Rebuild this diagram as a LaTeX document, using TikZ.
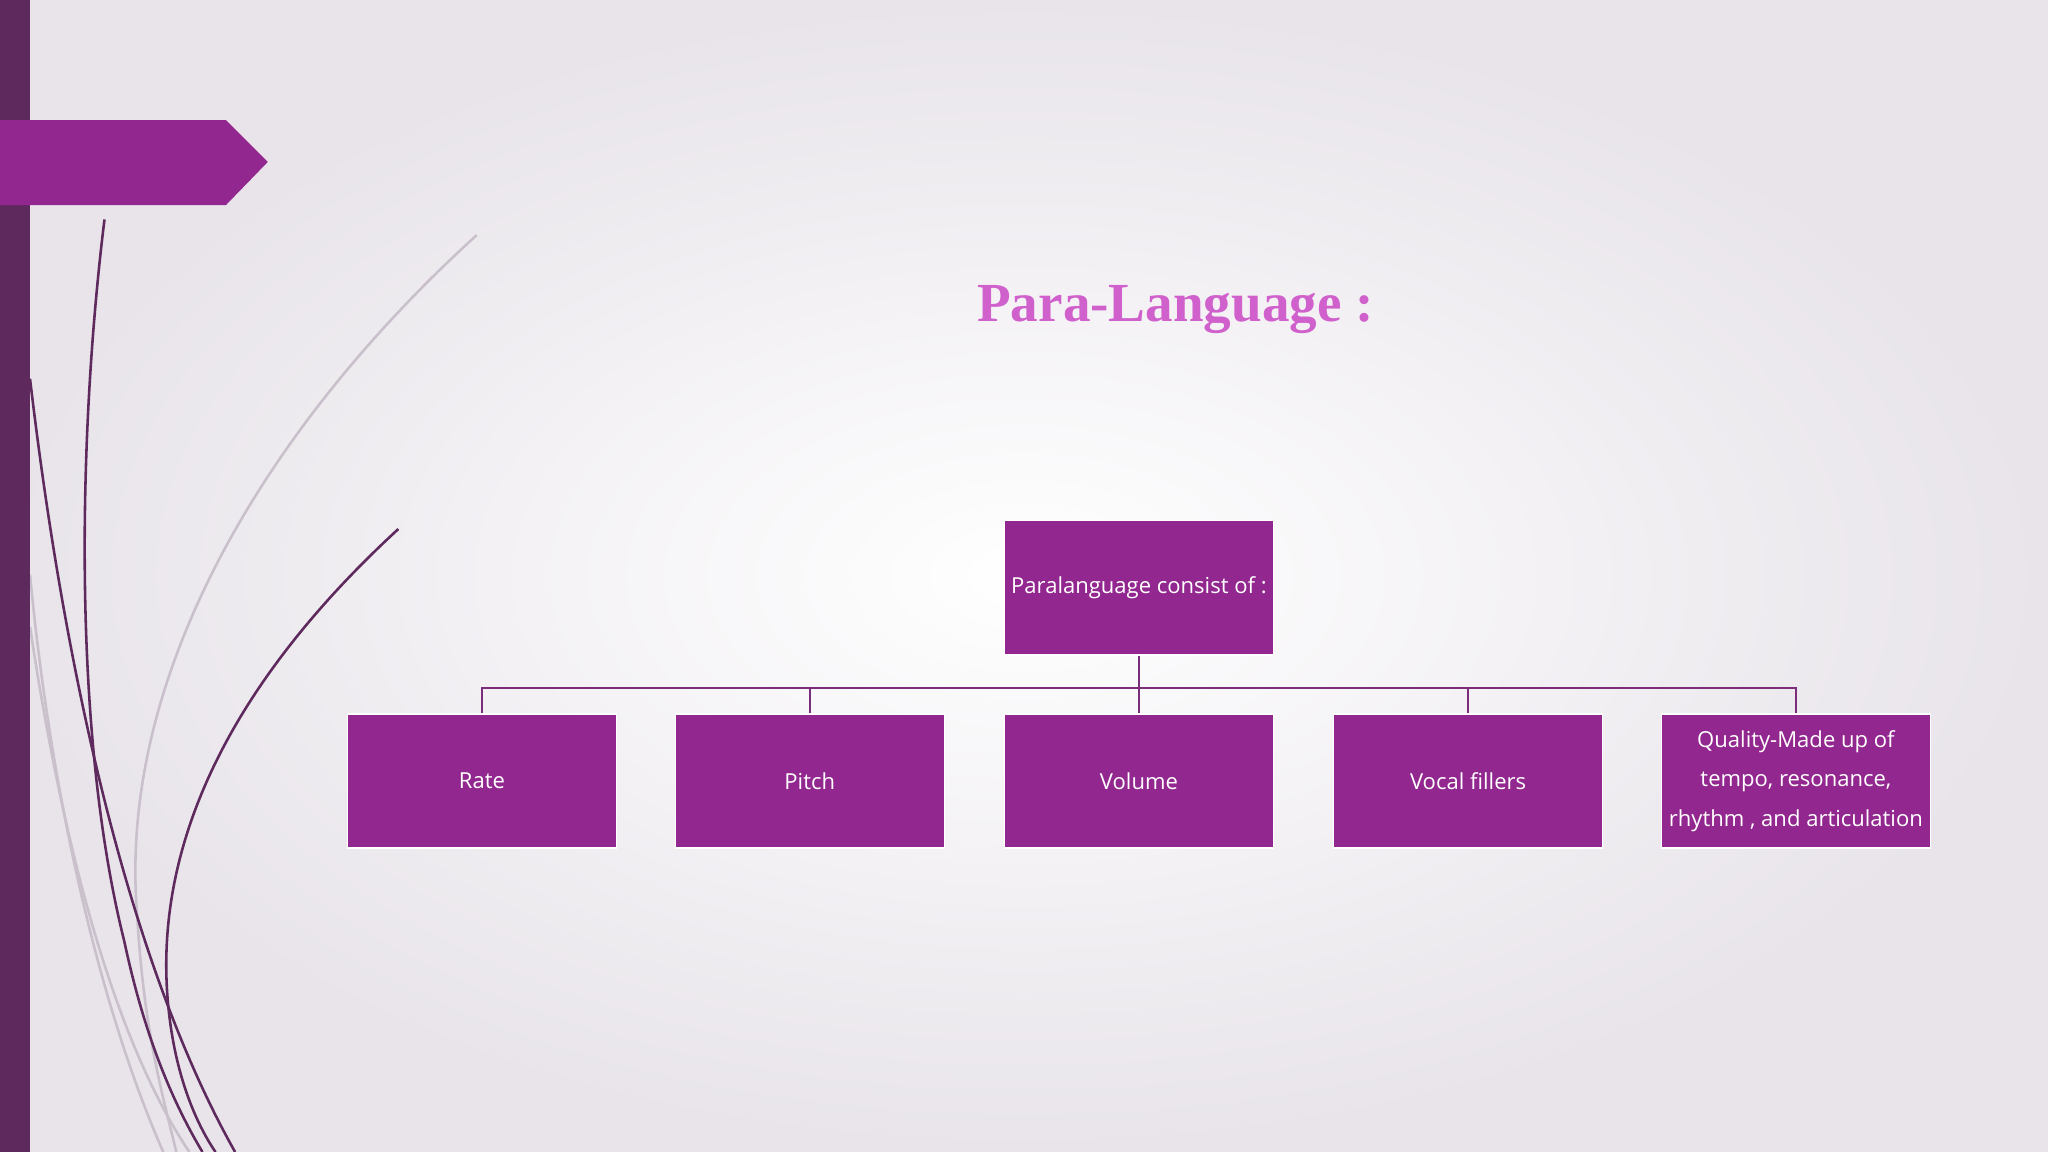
\documentclass[tikz,border=0pt]{standalone}
\usepackage{fontspec}
\setmainfont{Open Sans}
\newfontfamily\titlefont{Liberation Serif}
\definecolor{boxp}{HTML}{92278F}
\definecolor{barp}{HTML}{5E2A5E}
\definecolor{linep}{HTML}{7B2C7B}
\definecolor{titlep}{HTML}{D060CC}
\definecolor{bgedge}{HTML}{E8E4EA}
\definecolor{curvegray}{HTML}{C9C0CC}
\tikzset{
  pbox/.style={draw=white, line width=0.8pt, fill=boxp, minimum width=5.15cm, minimum height=2.57cm, inner sep=1pt, text=white, font=\fontsize{12}{21.5}\selectfont, align=center},
  conn/.style={draw=linep, line width=1.2pt},
  dcurve/.style={draw=barp, line width=1.4pt},
  gcurve/.style={draw=curvegray, line width=1.4pt}
}
\begin{document}
\begin{tikzpicture}[x=0.025cm,y=-0.025cm]
\useasboundingbox (0,0) rectangle (1568,882);
\shade[inner color=white, outer color=bgedge] (0,0) rectangle (1568,882);
% curves
\draw[gcurve] (365,180) .. controls (200,330) and (90,520) .. (105,700) .. controls (110,790) and (125,840) .. (135,882);
\draw[gcurve] (23,440) .. controls (40,620) and (80,780) .. (125,882);
\draw[gcurve] (23,480) .. controls (50,660) and (90,800) .. (145,882);
\draw[dcurve] (80,168) .. controls (60,330) and (55,560) .. (95,720) .. controls (110,790) and (130,840) .. (155,882);
\draw[dcurve] (305,405) .. controls (180,520) and (120,640) .. (128,760) .. controls (132,820) and (150,860) .. (165,882);
\draw[dcurve] (23,290) .. controls (50,520) and (100,740) .. (180,882);
% left bar and banner
\fill[barp] (0,0) rectangle (23,882);
\fill[boxp] (0,92) -- (173,92) -- (205,124) -- (173,157) -- (0,157) -- cycle;
% title
\node[text=titlep, font=\titlefont\bfseries\fontsize{30}{36}\selectfont] (title) at (900,237) {Para-Language :};
% boxes
\node[pbox] (top) at (872,450) {Paralanguage consist of :};
\node[pbox] (b1) at (369,598) {Rate};
\node[pbox] (b2) at (620,598) {Pitch};
\node[pbox] (b3) at (872,598) {Volume};
\node[pbox] (b4) at (1124,598) {Vocal fillers};
\node[pbox] (b5) at (1375,598) {Quality-Made up of\\tempo, resonance,\\rhythm , and articulation};
\coordinate (hub) at (872,527);
\draw[conn] (top.south) -- (b3.north);
\foreach \b in {b1,b2,b4,b5}{
  \draw[conn] (hub) -| (\b.north);
}
\end{tikzpicture}
\end{document}
